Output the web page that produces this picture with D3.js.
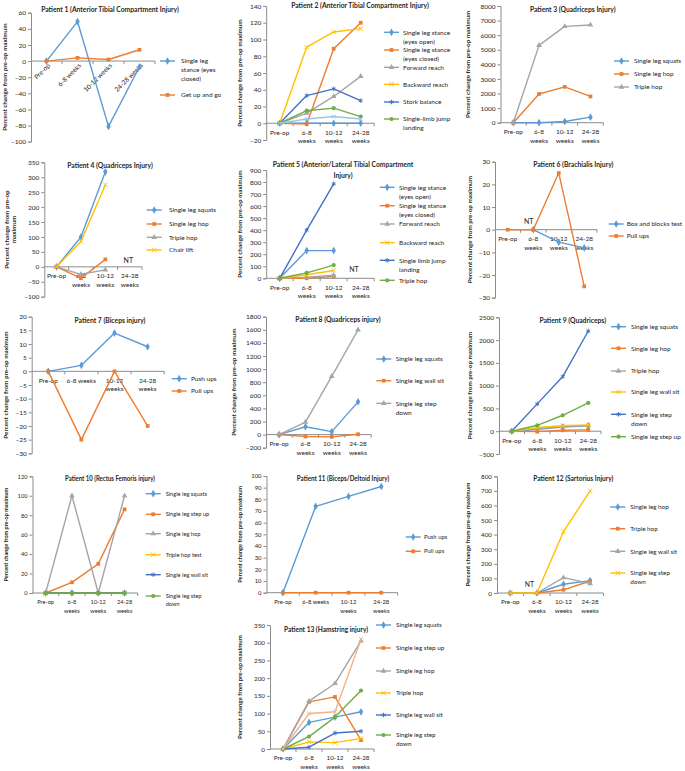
<!DOCTYPE html>
<html><head><meta charset="utf-8">
<script src="https://cdn.jsdelivr.net/npm/d3@7"></script>
<style>
body{margin:0;background:#fff}
svg{display:block}
text{font-family:Lato,"Open Sans",sans-serif;fill:#262626}
</style>
</head><body>
<svg id="c" width="685" height="771"></svg>
<script>
// ---------------- DATA ----------------
const categories = ["Pre-op","6-8 weeks","10-12 weeks","24-28 weeks"];
const yAxisTitle = "Percent change from pre-op maximum";
const notTested = "NT";

const p1Title = ["Patient 1 (Anterior Tibial Compartment Injury)"];
const p1Series = ["Single leg stance (eyes closed)","Get up and go"];
const p1Values = [[0,49,-81,-7],[0,4,2,14]];
const p1Ticks = [-100,-80,-60,-40,-20,0,20,40,60];

const p2Title = ["Patient 2 (Anterior Tibial Compartment Injury)"];
const p2Series = ["Single leg stance (eyes open)","Single leg stance (eyes closed)","Forward reach","Backward reach","Stork balance","Single-limb jump landing"];
const p2Values = [[0,0,0,0],[0,-1,89,120],[0,12,32,56],[0,91,109,113],[0,33,41,27],[0,15,18,8]];
const p2Unlabelled = [[0,5,8,5]];
const p2Ticks = [-20,0,20,40,60,80,100,120,140];

const p3Title = ["Patient 3 (Quadriceps Injury)"];
const p3Series = ["Single leg squats","Single leg hop","Triple hop"];
const p3Values = [[0,0,80,380],[0,1970,2460,1800],[0,5300,6600,6700]];
const p3Ticks = [0,1000,2000,3000,4000,5000,6000,7000,8000];

const p4Title = ["Patient 4 (Quadriceps Injury)"];
const p4Series = ["Single leg squats","Single leg hop","Triple hop","Chair lift"];
const p4Values = [[0,100,318,null],[0,-38,25,null],[0,-25,-10,null],[0,85,275,null]];
const p4Ticks = [-100,-50,0,50,100,150,200,250,300,350];

const p5Title = ["Patient 5 (Anterior/Lateral Tibial Compartment","Injury)"];
const p5Series = ["Single leg stance (eyes open)","Single leg stance (eyes closed)","Forward reach","Backward reach","Single limb jump landing","Triple hop"];
const p5Values = [[0,230,230,null],[0,0,15,null],[0,10,25,null],[0,30,65,null],[0,400,785,null],[0,45,110,null]];
const p5Ticks = [0,100,200,300,400,500,600,700,800,900];

const p6Title = ["Patient 6 (Brachialis Injury)"];
const p6Series = ["Box and blocks test","Pull ups"];
const p6Values = [[null,0,-5.5,-8],[0,0,25,-25]];
const p6Ticks = [-30,-20,-10,0,10,20,30];

const p7Title = ["Patient 7 (Biceps injury)"];
const p7Series = ["Push ups","Pull ups"];
const p7Values = [[0,2.2,14,9],[0,-25,0,-20]];
const p7Ticks = [-30,-25,-20,-15,-10,-5,0,5,10,15,20];

const p8Title = ["Patient 8 (Quadriceps injury)"];
const p8Series = ["Single leg squats","Single leg wall sit","Single leg step down"];
const p8Values = [[0,120,45,500],[0,-30,-35,5],[0,190,890,1600]];
const p8Ticks = [-200,0,200,400,600,800,1000,1200,1400,1600,1800];

const p9Title = ["Patient 9 (Quadriceps)"];
const p9Series = ["Single leg squats","Single leg hop","Triple hop","Single leg wall sit","Single leg step down","Single leg step up"];
const p9Values = [[0,40,90,120],[0,-10,20,30],[0,60,100,125],[0,80,120,140],[0,600,1200,2200],[0,130,350,620]];
const p9Ticks = [-500,0,500,1000,1500,2000,2500];

const p10Title = ["Patient 10  (Rectus Femoris injury)"];
const p10Series = ["Single leg squats","Single leg step up","Single leg hop","Triple hop test","Single leg wall sit","Single leg step down"];
const p10Values = [[0,0,0,0],[0,11,30,86],[0,100,0,100],[0,0,0,0],[0,0,0,0],[0,0,0,0]];
const p10Ticks = [0,20,40,60,80,100,120];

const p11Title = ["Patient 11  (Biceps/Deltoid Injury)"];
const p11Series = ["Push ups","Pull ups"];
const p11Values = [[0,74,82.5,91],[0,0,0,0]];
const p11Ticks = [0,10,20,30,40,50,60,70,80,90,100];

const p12Title = ["Patient 12  (Sartorius Injury)"];
const p12Series = ["Single leg hop","Triple hop","Single leg wall sit","Single leg step down"];
const p12Values = [[0,0,60,85],[0,0,22,82],[0,0,105,65],[0,0,420,700]];
const p12Ticks = [0,100,200,300,400,500,600,700,800];

const p13Title = ["Patient 13 (Hamstring injury)"];
const p13Series = ["Single leg squats","Single leg step up","Single leg hop","Triple hop","Single leg wall sit","Single leg step down"];
const p13Values = [[0,75,90,105],[0,133,147,25],[0,135,185,305],[0,20,18,30],[0,5,45,50],[0,35,90,165]];
const p13Unlabelled = [[0,100,105,310]];
const p13Ticks = [0,50,100,150,200,250,300,350];

// ---------------- STYLE / LAYOUT ----------------
const palette = ["#5B9BD5","#ED7D31","#A5A5A5","#FFC000","#4472C4","#70AD47"];
const extraColors = ["#9DC3E6","#F4B183"];
const symbols = [d3.symbolDiamond,d3.symbolSquare,d3.symbolTriangle,d3.symbolTimes,d3.symbolAsterisk,d3.symbolCircle];
const symSize = [17,14,14,14,14,14];
const titleCondense = 0.9;

const panels = [
 {title:p1Title,series:p1Series,values:p1Values,ticks:p1Ticks,l:31,r:155,t:12.7,b:141.7,xMode:"rotate",yTitleX:4.5,titleX:110,titleY:11.5,legLine:160,legText:181,legY:[61,95],legWrap:47,fs:6.5},
 {title:p2Title,series:p2Series,values:p2Values,extra:p2Unlabelled,extraColor:0,ticks:p2Ticks,l:266.2,r:374.2,t:6,b:140,xMode:"wrap",yTitleX:239.7,titleX:360,titleY:8,legLine:384,legText:403,legY:[32.3,50,67.3,84.3,102,119],legWrap:55,fs:6.5},
 {title:p3Title,series:p3Series,values:p3Values,ticks:p3Ticks,l:500.5,r:603.3,t:6,b:122.7,xMode:"wrap",yTitleX:467.7,titleX:572.7,titleY:11.8,legLine:614,legText:634,legY:[61,74,87],legWrap:60,fs:6.5},
 {title:p4Title,series:p4Series,values:p4Values,ticks:p4Ticks,l:44.3,r:142,t:162.3,b:296.7,xMode:"wrap",yTitleX:11,yTitleWrap:true,titleX:110,titleY:168,legLine:146.7,legText:169,legY:[210,224,237.3,250],legWrap:60,fs:6.5,nt:[128.3,263]},
 {title:p5Title,series:p5Series,values:p5Values,ticks:p5Ticks,l:266.2,r:374.2,t:170,b:278.3,xMode:"wrap",yTitleX:239.7,titleX:343,titleY:166.8,legLine:379.7,legText:399,legY:[187.3,205.7,224,242.7,260.3,280.3],legWrap:55,fs:6.5,nt:[354,271.5]},
 {title:p6Title,series:p6Series,values:p6Values,ticks:p6Ticks,l:495,r:597,t:161.7,b:297.7,xMode:"wrap",yTitleX:469.3,titleX:573.3,titleY:166.8,legLine:608.7,legText:626.7,legY:[224,236],legWrap:60,fs:6.5,nt:[528.7,224]},
 {title:p7Title,series:p7Series,values:p7Values,ticks:p7Ticks,l:31.7,r:164.2,t:316.7,b:453.3,xMode:"wrap",noWrap:[1],yTitleX:6,titleX:110,titleY:322.5,legLine:171.7,legText:191,legY:[378.7,391],legWrap:60,fs:6.5},
 {title:p8Title,series:p8Series,values:p8Values,ticks:p8Ticks,l:266,r:371.2,t:316.7,b:447.7,xMode:"wrap",yTitleX:234,titleX:338,titleY:321.8,legLine:376.3,legText:395.7,legY:[359,380.7,403.3],legWrap:55,fs:6.5},
 {title:p9Title,series:p9Series,values:p9Values,ticks:p9Ticks,l:499,r:601,t:317.3,b:454,xMode:"wrap",yTitleX:469.3,titleX:572.7,titleY:322.5,legLine:611,legText:631,legY:[326.7,348.3,371,392,414.3,436.7],legWrap:53,fs:6.5},
 {title:p10Title,series:p10Series,values:p10Values,ticks:p10Ticks,l:32.5,r:137.7,t:476.3,b:593,xMode:"wrap",yTitleX:6,titleX:110,titleY:481,legLine:145.7,legText:165.7,legY:[493.7,514.3,533.7,554.7,574.7,596],legWrap:46,fs:5.7},
 {title:p11Title,series:p11Series,values:p11Values,ticks:p11Ticks,l:266.5,r:397.7,t:476,b:592.7,xMode:"wrap",noWrap:[1],yTitleX:239.7,titleX:343,titleY:481,legLine:405.7,legText:424,legY:[537,551.3],legWrap:60,fs:5.9},
 {title:p12Title,series:p12Series,values:p12Values,ticks:p12Ticks,l:497,r:603.4,t:476.3,b:593,xMode:"wrap",yTitleX:467.7,titleX:573.3,titleY:481,legLine:610.3,legText:630.3,legY:[507,528.7,551.3,573],legWrap:55,fs:6.3,nt:[529.3,586.5]},
 {title:p13Title,series:p13Series,values:p13Values,extra:p13Unlabelled,extraColor:1,ticks:p13Ticks,l:270,r:374,t:625,b:749,xMode:"wrap",yTitleX:240,titleX:326,titleY:632,legLine:376,legText:396,legY:[625,648,671,693,715,735],legWrap:52,fs:6.3}
];

const svg = d3.select("#c");
const axisColor = "#8c8c8c";

function wrapWords(textSel, str, maxW){
  const words = str.split(" ");
  const lines = [];
  let cur = "";
  for(const w of words){
    const trial = cur ? cur+" "+w : w;
    textSel.text(trial);
    if(cur && textSel.node().getComputedTextLength() > maxW){ lines.push(cur); cur = w; }
    else cur = trial;
  }
  if(cur) lines.push(cur);
  textSel.text(null);
  return lines;
}

panels.forEach(p => {
  const g = svg.append("g");
  const x = d3.scalePoint().domain(categories).range([p.l,p.r]).padding(0.5);
  const y = d3.scaleLinear().domain([p.ticks[0], p.ticks[p.ticks.length-1]]).range([p.b,p.t]);
  const fs = p.fs;
  const y0 = y(0);

  // y axis
  const ya = g.append("g").attr("transform",`translate(${p.l},0)`)
    .call(d3.axisLeft(y).tickValues(p.ticks).tickSize(3).tickPadding(2).tickFormat(d3.format("d")));
  ya.select(".domain").attr("stroke",axisColor);
  ya.selectAll(".tick line").attr("stroke",axisColor);
  ya.selectAll(".tick text").attr("font-size",fs).attr("font-family","Lato").attr("fill","#262626");

  // x axis line at zero
  const step = x.step();
  g.append("line").attr("x1",p.l).attr("x2",p.r).attr("y1",y0).attr("y2",y0).attr("stroke",axisColor);
  categories.forEach((c,i)=>{
    const bx = p.l + step*(i+1);
    g.append("line").attr("x1",bx).attr("x2",bx).attr("y1",y0).attr("y2",y0+3).attr("stroke",axisColor);
  });

  // x labels
  categories.forEach((c,i)=>{
    const cx = x(c);
    if(p.xMode==="rotate"){
      g.append("text").attr("transform",`translate(${cx+4},${y0+5}) rotate(-45)`)
        .attr("text-anchor","end").attr("font-size",fs).text(c);
    } else {
      const parts = (i===0 || (p.noWrap && p.noWrap.includes(i))) ? [c] : [c.replace(" weeks",""),"weeks"];
      parts.forEach((s,k)=>{
        g.append("text").attr("x",cx).attr("y",y0+11.3+k*8.8).attr("text-anchor","middle").attr("font-size",fs).text(s);
      });
    }
  });

  // y title
  const yt = g.append("text").attr("font-size",fs-0.2).attr("font-weight","bold").attr("text-anchor","middle")
    .attr("transform",`translate(${p.yTitleX},${(p.t+p.b)/2}) rotate(-90)`);
  if(p.yTitleWrap){
    yt.append("tspan").attr("x",0).attr("dy","-0.35em").text(yAxisTitle.replace(" maximum",""));
    yt.append("tspan").attr("x",0).attr("dy","1.2em").text("maximum");
  } else {
    yt.attr("dy","0.35em").text(yAxisTitle);
  }

  // title (slightly condensed to mimic a narrow face)
  p.title.forEach((s,k)=>{
    const tt = g.append("text").attr("x",p.titleX).attr("y",p.titleY+k*10.7).attr("text-anchor","middle")
      .attr("font-size",fs+1).attr("font-weight","bold").text(s);
    const w = tt.node().getComputedTextLength();
    tt.attr("textLength",w*titleCondense).attr("lengthAdjust","spacingAndGlyphs");
  });

  const line = d3.line().defined(d=>d.v!=null).x(d=>x(d.c)).y(d=>y(d.v));
  function drawSeries(vals,color,sym,size){
    const pts = vals.map((v,i)=>({c:categories[i],v:v}));
    g.append("path").datum(pts).attr("d",line).attr("fill","none").attr("stroke",color).attr("stroke-width",1.4).attr("stroke-linejoin","round");
    if(sym){
      const isStroke = (sym===d3.symbolTimes || sym===d3.symbolAsterisk);
      g.selectAll(null).data(pts.filter(d=>d.v!=null)).enter().append("path")
        .attr("transform",d=>`translate(${x(d.c)},${y(d.v)})`)
        .attr("d",d3.symbol().type(sym).size(size))
        .attr("fill",isStroke?"none":color).attr("stroke",isStroke?color:"none").attr("stroke-width",1);
    }
  }
  p.values.forEach((vals,si)=> drawSeries(vals,palette[si],symbols[si],symSize[si]));
  if(p.extra) p.extra.forEach(vals=> drawSeries(vals, extraColors[p.extraColor], d3.symbolTimes, 12));

  // NT
  if(p.nt){
    g.append("text").attr("x",p.nt[0]).attr("y",p.nt[1]).attr("text-anchor","middle").attr("font-size",fs+0.5).text(notTested);
  }

  // legend
  p.series.forEach((name,si)=>{
    const ly = p.legY[si];
    g.append("line").attr("x1",p.legLine).attr("x2",p.legLine+15).attr("y1",ly).attr("y2",ly).attr("stroke",palette[si]).attr("stroke-width",1.4);
    const sym = symbols[si];
    const isStroke = (sym===d3.symbolTimes || sym===d3.symbolAsterisk);
    g.append("path").attr("transform",`translate(${p.legLine+7.5},${ly})`).attr("d",d3.symbol().type(sym).size(symSize[si]))
      .attr("fill",isStroke?"none":palette[si]).attr("stroke",isStroke?palette[si]:"none");
    const t = g.append("text").attr("x",p.legText).attr("y",ly).attr("font-size",fs);
    const lines = wrapWords(t,name,p.legWrap);
    lines.forEach((s,k)=>{
      t.append("tspan").attr("x",p.legText).attr("dy",k===0?"0.35em":"1.38em").text(s);
    });
  });
});
</script>
</body></html>
